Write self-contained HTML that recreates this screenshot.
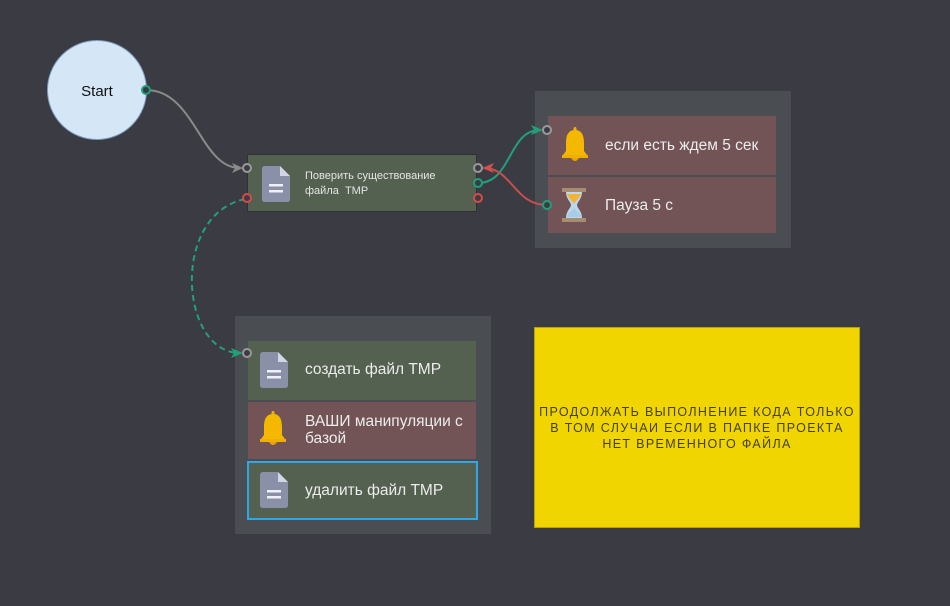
<!DOCTYPE html>
<html><head><meta charset="utf-8">
<style>
html,body{margin:0;padding:0;}
body{width:950px;height:606px;background:#3b3b44;position:relative;overflow:hidden;font-family:"Liberation Sans","DejaVu Sans",sans-serif;}
.abs{position:absolute;}
.start{left:47px;top:40px;width:98px;height:98px;border-radius:50%;background:#d5e7f7;border:1px solid #7f9fc0;}
.start span{position:absolute;left:0;right:0;top:42px;text-align:center;font-size:15px;color:#111;}
.node1{left:247px;top:154px;width:230px;height:58px;background:#546150;border:1px solid #2e3330;box-sizing:border-box;}
.grp{background:#4a4e52;}
.item{position:absolute;box-sizing:border-box;}
.green{background:#546150;}
.red{background:#735456;}
.txt{position:absolute;color:#ececec;font-size:15.5px;line-height:17px;white-space:nowrap;}
.note{left:534px;top:327px;width:326px;height:201px;background:#f1d500;box-sizing:border-box;border:1px solid #b9a200;}
.note div{position:absolute;left:-10px;right:-10px;top:76px;text-align:center;font-size:12.5px;line-height:16px;letter-spacing:1.35px;color:#45401c;}
</style></head><body>

<div class="abs start"><span>Start</span></div>

<div class="abs node1">
  <svg class="abs" style="left:14px;top:11px" width="28" height="36" viewBox="0 0 28 36">
    <path d="M3 0 H18 L28 10 V33 Q28 36 25 36 H3 Q0 36 0 33 V3 Q0 0 3 0Z" fill="#8a90a8"/>
    <path d="M18 0 L28 10 H18Z" fill="#d3d6e6"/>
    <rect x="7" y="18" width="14" height="2.5" fill="#eef0f6"/>
    <rect x="7" y="24" width="14" height="2.5" fill="#eef0f6"/>
  </svg>
  <div class="txt" style="left:57px;top:14px;font-size:11px;line-height:15px;color:#e4e4e4">Поверить существование<br>файла&nbsp; TMP</div>
</div>

<!-- group 1 -->
<div class="abs grp" style="left:535px;top:91px;width:256px;height:157px;">
  <div class="item red" style="left:13px;top:25px;width:228px;height:59px;"></div>
  <div class="item red" style="left:13px;top:86px;width:228px;height:56px;"></div>
  <svg class="abs" style="left:27px;top:36px" width="26" height="37" viewBox="0 0 26 37">
    <rect x="11.5" y="0" width="3" height="5" rx="1.5" fill="#f2b300"/>
    <path d="M13 3 C6 3 4 9 4 16 V24 L1 28 V31 H25 V28 L22 24 V16 C22 9 20 3 13 3Z" fill="#f4b800"/>
    <rect x="0" y="28" width="26" height="3" fill="#f0ae00"/>
    <path d="M9 31 Q13 37 17 31Z" fill="#e9a400"/>
  </svg>
  <svg class="abs" style="left:27px;top:97px" width="24" height="34" viewBox="0 0 24 34">
    <rect x="0" y="0" width="24" height="4" fill="#a88c72"/>
    <rect x="0" y="30" width="24" height="4" fill="#a88c72"/>
    <path d="M4 4 H20 C20 11 15 14 15 17 C15 20 20 23 20 30 H4 C4 23 9 20 9 17 C9 14 4 11 4 4Z" fill="#bcd8ee"/>
    <path d="M5 6 H19 C18 10 13 13 12 16 C11 13 6 10 5 6Z" fill="#f2b233"/>
    <path d="M12 19 C13 23 19 25 19 29 H5 C5 25 11 23 12 19Z" fill="#a8cbe8"/>
  </svg>
  <div class="txt" style="left:70px;top:46px;">если есть ждем 5 сек</div>
  <div class="txt" style="left:70px;top:106px;">Пауза 5 с</div>
</div>

<!-- group 2 -->
<div class="abs grp" style="left:235px;top:316px;width:256px;height:218px;">
  <div class="item green" style="left:13px;top:25px;width:228px;height:59px;"></div>
  <div class="item red" style="left:13px;top:86px;width:228px;height:57px;"></div>
  <div class="item green" style="left:12px;top:145px;width:231px;height:59px;border:2px solid #2fa6e6;"></div>
  <svg class="abs" style="left:25px;top:36px" width="28" height="36" viewBox="0 0 28 36">
    <path d="M3 0 H18 L28 10 V33 Q28 36 25 36 H3 Q0 36 0 33 V3 Q0 0 3 0Z" fill="#8a90a8"/>
    <path d="M18 0 L28 10 H18Z" fill="#d3d6e6"/>
    <rect x="7" y="18" width="14" height="2.5" fill="#eef0f6"/>
    <rect x="7" y="24" width="14" height="2.5" fill="#eef0f6"/>
  </svg>
  <svg class="abs" style="left:25px;top:95px" width="26" height="37" viewBox="0 0 26 37">
    <rect x="11.5" y="0" width="3" height="5" rx="1.5" fill="#f2b300"/>
    <path d="M13 3 C6 3 4 9 4 16 V24 L1 28 V31 H25 V28 L22 24 V16 C22 9 20 3 13 3Z" fill="#f4b800"/>
    <rect x="0" y="28" width="26" height="3" fill="#f0ae00"/>
    <path d="M9 31 Q13 37 17 31Z" fill="#e9a400"/>
  </svg>
  <svg class="abs" style="left:25px;top:156px" width="28" height="36" viewBox="0 0 28 36">
    <path d="M3 0 H18 L28 10 V33 Q28 36 25 36 H3 Q0 36 0 33 V3 Q0 0 3 0Z" fill="#8a90a8"/>
    <path d="M18 0 L28 10 H18Z" fill="#d3d6e6"/>
    <rect x="7" y="18" width="14" height="2.5" fill="#eef0f6"/>
    <rect x="7" y="24" width="14" height="2.5" fill="#eef0f6"/>
  </svg>
  <div class="txt" style="left:70px;top:45px;">создать файл TMP</div>
  <div class="txt" style="left:70px;top:97px;">ВАШИ манипуляции с<br>базой</div>
  <div class="txt" style="left:70px;top:166px;">удалить файл TMP</div>
</div>

<div class="abs note"><div>ПРОДОЛЖАТЬ ВЫПОЛНЕНИЕ КОДА ТОЛЬКО<br>В ТОМ СЛУЧАИ ЕСЛИ В ПАПКЕ ПРОЕКТА<br>НЕТ ВРЕМЕННОГО ФАЙЛА</div></div>

<svg class="abs" style="left:0;top:0" width="950" height="606" viewBox="0 0 950 606">
  <!-- start -> node1 -->
  <path d="M146 90 C195 90 200 168 240 168" fill="none" stroke="#8a8a8a" stroke-width="2"/>
  <path d="M243 168 L232 163 L235 168 L232 173Z" fill="#8a8a8a"/>
  <!-- node1 green -> group1 -->
  <path d="M478 183 C512 183 508 130 540 130" fill="none" stroke="#22a07a" stroke-width="2"/>
  <path d="M543 130 L531 125 L534 130 L531 135Z" fill="#22a07a"/>
  <!-- group1 green -> node1 gray -->
  <path d="M547 205 C515 205 512 170 486 168" fill="none" stroke="#c84e50" stroke-width="2"/>
  <path d="M482 168 L494 163 L491 168 L494 173Z" fill="#d0504f"/>
  <!-- dashed -->
  <path d="M245 199 C170 215 180 353 240 353" fill="none" stroke="#22a07a" stroke-width="2" stroke-dasharray="6,4"/>
  <path d="M243 353 L231 348 L234 353 L231 358Z" fill="#22a07a"/>
  <!-- ports -->
  <circle cx="146" cy="90" r="4" fill="#3b3b44" stroke="#1fa07c" stroke-width="2"/>
  <circle cx="247" cy="168" r="4" fill="#3b3b44" stroke="#9a9a9a" stroke-width="2"/>
  <circle cx="247" cy="198" r="4" fill="#3b3b44" stroke="#d84a4a" stroke-width="2"/>
  <circle cx="478" cy="168" r="4" fill="#3b3b44" stroke="#9a9a9a" stroke-width="2"/>
  <circle cx="478" cy="183" r="4" fill="#3b3b44" stroke="#1fa07c" stroke-width="2"/>
  <circle cx="478" cy="198" r="4" fill="#3b3b44" stroke="#d84a4a" stroke-width="2"/>
  <circle cx="547" cy="130" r="4" fill="#3b3b44" stroke="#9a9a9a" stroke-width="2"/>
  <circle cx="547" cy="205" r="4" fill="#3b3b44" stroke="#1fa07c" stroke-width="2"/>
  <circle cx="247" cy="353" r="4" fill="#3b3b44" stroke="#9a9a9a" stroke-width="2"/>
</svg>
</body></html>
